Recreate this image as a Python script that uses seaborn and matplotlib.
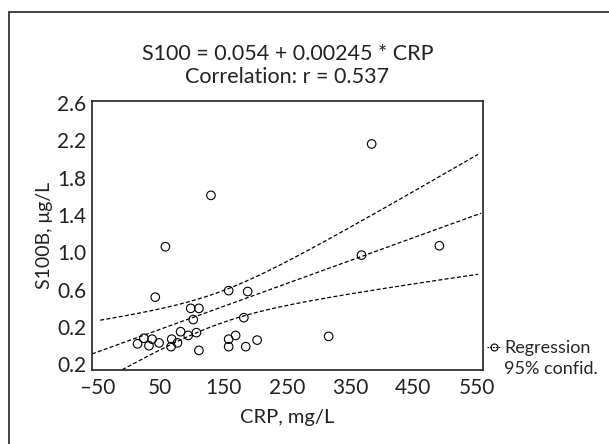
import matplotlib
matplotlib.use("Agg")
import matplotlib.pyplot as plt
from matplotlib.lines import Line2D
from matplotlib.patches import Rectangle
import numpy as np
import pandas as pd
import seaborn as sns

# CRP (mg/L) vs S100B (ug/L)
crp = [130, 58, 42, 158, 188, 98, 111, 102, 182, 14,
       24, 32, 37, 48, 68, 67, 77, 82, 94, 107,
       111, 158, 158, 169, 185, 203, 384, 368, 491, 316]
s100 = [1.61, 1.06, 0.52, 0.59, 0.58, 0.40, 0.40, 0.28, 0.30, 0.02,
        0.08, 0.00, 0.07, 0.03, 0.07, -0.01, 0.03, 0.15, 0.11, 0.14,
        -0.05, 0.07, -0.01, 0.11, -0.01, 0.06, 2.16, 0.97, 1.07, 0.10]

intercept = 0.054
slope = 0.00245
r_value = 0.537

x_ticks = [-50, 50, 150, 250, 350, 450, 550]
y_ticks = [-0.2, 0.2, 0.6, 1.0, 1.4, 1.8, 2.2, 2.6]
y_ticklabels = ["0.2", "0.2", "0.6", "1.0", "1.4", "1.8", "2.2", "2.6"]

df = pd.DataFrame({"CRP": crp, "S100": s100})

# 95% confidence band of the fitted line
x = np.array(crp, dtype=float)
y = np.array(s100, dtype=float)
n = len(x)
resid = y - (intercept + slope * x)
s_err = np.sqrt(np.sum(resid ** 2) / (n - 2))
sxx = np.sum((x - x.mean()) ** 2)
t_val = 2.048

grid = np.linspace(-45, 552, 200)
fit_grid = np.linspace(-58, 557, 200)
half = t_val * s_err * np.sqrt(1 / n + (grid - x.mean()) ** 2 / sxx)
fit = intercept + slope * grid

sns.set_theme(style="white")
plt.rcParams["font.family"] = ["Lato", "DejaVu Sans"]

fig = plt.figure(figsize=(6.09, 4.44), dpi=100)
ax = fig.add_axes([92 / 609, 1 - 370 / 444, (483 - 92) / 609, (370 - 101) / 444])

dash = (0, (3.2, 1.8))
ax.plot(fit_grid, intercept + slope * fit_grid, color="black", lw=0.9, linestyle=dash)
ax.plot(grid, fit + half, color="black", lw=0.9, linestyle=dash)
ax.plot(grid, fit - half, color="black", lw=0.9, linestyle=dash)

sns.scatterplot(data=df, x="CRP", y="S100", ax=ax, marker="o", s=38,
                facecolor="none", edgecolor="black", linewidth=0.8, zorder=3)

ax.set_xlim(-58, 560)
ax.set_ylim(-0.26, 2.62)
ax.set_xticks(x_ticks)
ax.set_xticklabels(["\u201350" if v < 0 else str(v) for v in x_ticks])
ax.set_yticks(y_ticks)
ax.set_yticklabels(y_ticklabels)
ax.tick_params(axis="both", length=0, labelsize=15, colors="#222222")
ax.tick_params(axis="x", pad=6)
ax.tick_params(axis="y", pad=4)
for sp in ax.spines.values():
    sp.set_color("#222222")
    sp.set_linewidth(1.2)

ax.set_xlabel("CRP, mg/L", fontsize=14.5, color="#222222", labelpad=8)
ax.set_ylabel("S100B, \u03bcg/L", fontsize=14, color="#222222", labelpad=3)
ax.set_title("S100 = %.3f + %.5f * CRP\nCorrelation: r = %.3f" % (intercept, slope, r_value),
             fontsize=15.5, color="#222222", linespacing=1.2, pad=13)

handles = [Line2D([], [], color="black", lw=0.8, linestyle=(0, (1.5, 1)), marker="o",
                  markersize=5, markerfacecolor="none", markeredgewidth=0.8),
           Line2D([], [], color="none")]
ax.legend(handles, ["Regression", "95% confid."], loc="upper left",
          bbox_to_anchor=(487 / 609, 1 - 340 / 444), bbox_transform=fig.transFigure,
          frameon=False, fontsize=13, handlelength=0.8, handletextpad=0.15,
          labelspacing=0.25, borderaxespad=0, borderpad=0)

# outer frame of the figure
fig.patches.append(Rectangle((9 / 609, -0.05), 1.2, 1 - 12 / 444 + 0.05,
                             transform=fig.transFigure, fill=False,
                             edgecolor="#333333", linewidth=1.3))

fig.savefig("out.png", dpi=100)
